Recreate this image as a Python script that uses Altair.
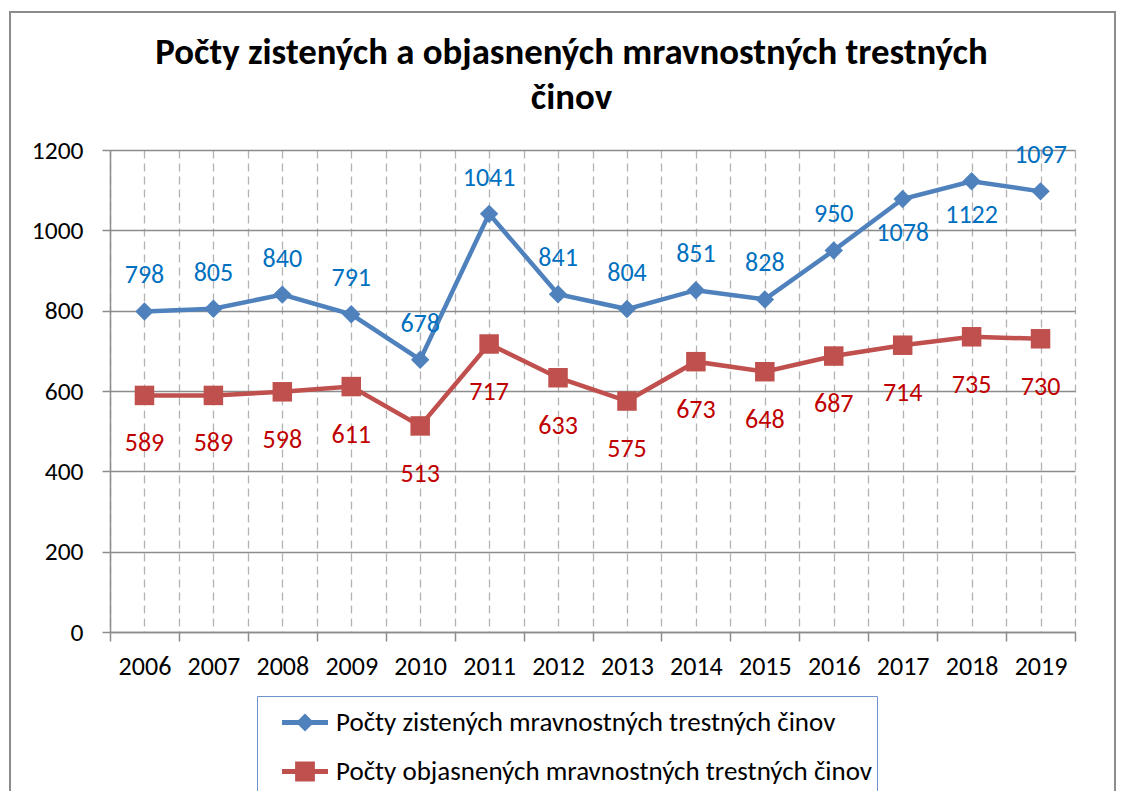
import altair as alt
import pandas as pd

years = [2006, 2007, 2008, 2009, 2010, 2011, 2012, 2013, 2014, 2015, 2016, 2017, 2018, 2019]
zistene = [798, 805, 840, 791, 678, 1041, 841, 804, 851, 828, 950, 1078, 1122, 1097]
objasnene = [589, 589, 598, 611, 513, 717, 633, 575, 673, 648, 687, 714, 735, 730]
series_names = ["Počty zistených mravnostných trestných činov",
                "Počty objasnených mravnostných trestných činov"]
line_colors = ["#4F81BD", "#C0504D"]
label_colors = ["#0070C0", "#C00000"]
title_lines = ["Počty zistených a objasnených mravnostných trestných", "činov"]
y_ticks = [0, 200, 400, 600, 800, 1000, 1200]
labels_below_blue = [2017, 2018]

FONT = "Carlito, Calibri, Lato, sans-serif"

df = pd.DataFrame({
    "year": years * 2,
    "value": zistene + objasnene,
    "series": [series_names[0]] * len(years) + [series_names[1]] * len(years),
})

x_vals = sorted([y - 0.5 for y in years] + years + [years[-1] + 0.5])

x_enc = alt.X("year:Q",
              scale=alt.Scale(domain=[years[0] - 0.5, years[-1] + 0.5], nice=False, zero=False),
              axis=alt.Axis(values=x_vals, title=None, grid=True, gridDash=[8, 5],
                            gridColor="#b3b3b3", gridWidth=1.3,
                            tickColor={"condition": {"test": "datum.value % 1 != 0", "value": "#8c8c8c"},
                                       "value": "transparent"},
                            tickSize=9, tickWidth=1.5,
                            labelExpr="datum.value % 1 == 0 ? toString(datum.value) : ''",
                            labelPadding=12, labelOverlap=False, labelFlush=False,
                            labelFontSize=26, labelFont=FONT, labelColor="black",
                            domainColor="#8c8c8c", domainWidth=1.5))
y_enc = alt.Y("value:Q",
              scale=alt.Scale(domain=[0, 1200], nice=False),
              axis=alt.Axis(values=y_ticks, title=None, grid=True, gridColor="#8c8c8c",
                            gridWidth=1.3, tickColor="#8c8c8c", tickSize=8, tickWidth=1.5,
                            format="d",
                            labelPadding=19, labelFontSize=25.5, labelFont=FONT,
                            labelColor="black", domainColor="#8c8c8c", domainWidth=1.5))

base = alt.Chart(df)

blue = base.transform_filter(alt.datum.series == series_names[0])
red = base.transform_filter(alt.datum.series == series_names[1])

blue_line = blue.mark_line(color=line_colors[0], strokeWidth=4.5).encode(x=x_enc, y=y_enc)
red_line = red.mark_line(color=line_colors[1], strokeWidth=4.5).encode(x=x_enc, y=y_enc)
blue_pts = blue.mark_point(shape="diamond", filled=True, size=340, opacity=1,
                           color=line_colors[0]).encode(x=x_enc, y=y_enc)
red_pts = red.mark_point(shape="square", filled=True, size=380, opacity=1,
                         color=line_colors[1]).encode(x=x_enc, y=y_enc)

txt = dict(font=FONT, fontSize=26, baseline="middle", align="center")
blue_above = blue.transform_filter(
    alt.FieldOneOfPredicate(field="year", oneOf=labels_below_blue).__invert__()
).mark_text(color=label_colors[0], dy=-36, **txt).encode(x=x_enc, y=y_enc, text="value:Q")
blue_below = blue.transform_filter(
    alt.FieldOneOfPredicate(field="year", oneOf=labels_below_blue)
).mark_text(color=label_colors[0], dy=34, **txt).encode(x=x_enc, y=y_enc, text="value:Q")
red_txt = red.mark_text(color=label_colors[1], dy=48, **txt).encode(x=x_enc, y=y_enc, text="value:Q")

path_diamond = "M-1,-0.11L1,-0.11L1,0.11L-1,0.11Z M-0.39,0L0,-0.39L0.39,0L0,0.39Z"
path_square = "M-1,-0.11L1,-0.11L1,0.11L-1,0.11Z M-0.43,-0.43L0.43,-0.43L0.43,0.43L-0.43,0.43Z"

leg = alt.Legend(title=None, orient="none", legendX=147, legendY=546, direction="vertical",
                 padding=4, rowPadding=4, clipHeight=45, symbolOffset=21, labelOffset=8,
                 symbolSize=2116, symbolStrokeWidth=0, labelFontSize=27, labelFont=FONT,
                 labelColor="black", labelLimit=800, strokeColor="#6f94cc", fillColor="white")

legend_layer = base.transform_filter("false").mark_point(filled=True, opacity=1).encode(
    x=x_enc, y=y_enc,
    color=alt.Color("series:N", scale=alt.Scale(domain=series_names, range=line_colors), legend=leg),
    shape=alt.Shape("series:N", scale=alt.Scale(domain=series_names, range=[path_diamond, path_square]),
                    legend=leg),
)

border = alt.Chart(pd.DataFrame({"a": [0]})).mark_rect(
    fillOpacity=0, stroke="#8c8c8c", strokeWidth=2
).encode(x=alt.value(-100), x2=alt.value(1005), y=alt.value(-138), y2=alt.value(660))

chart = alt.layer(
    border, blue_line, red_line, blue_pts, red_pts, blue_above, blue_below, red_txt, legend_layer
).properties(
    width=965, height=482,
    padding={"left": 102, "top": 142, "right": 42, "bottom": 159},
    autosize=alt.AutoSizeParams(type="none"),
    background="white",
    title=alt.TitleParams(text=title_lines, font=FONT, fontSize=36.8, fontWeight="bold",
                          color="black", anchor="middle", frame="group", dx=-21,
                          offset=-106, lineHeight=45),
).configure_view(stroke=None)

chart.save("out.html", embed_options={"renderer": "svg", "actions": False})
